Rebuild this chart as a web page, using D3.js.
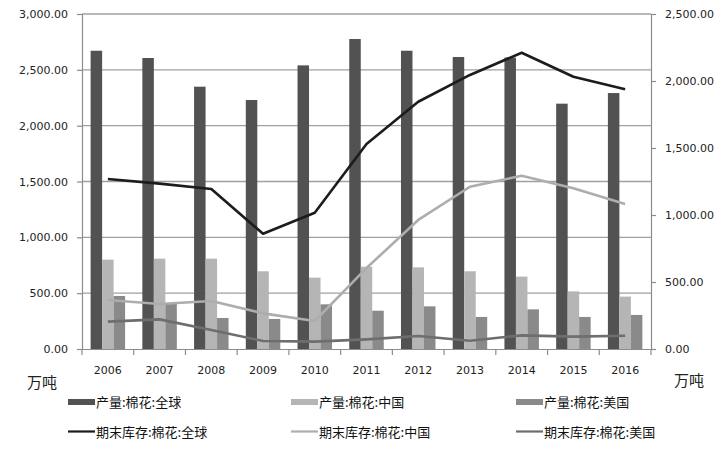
<!DOCTYPE html>
<html><head><meta charset="utf-8">
<script src="https://cdn.jsdelivr.net/npm/d3@7"></script>
<style>body{margin:0;background:#fff;}svg{display:block;}</style>
</head><body>
<svg id="c" width="717" height="450"></svg>
<script>
const years = ["2006","2007","2008","2009","2010","2011","2012","2013","2014","2015","2016"];
const prodGlobal = [2671,2606,2349,2230,2540,2776,2671,2615,2610,2197,2292];
const prodChina  = [800,809,809,696,639,737,731,696,648,516,469];
const prodUS     = [475,412,278,269,400,343,382,287,355,287,305];
const stockGlobal = [1269,1234,1194,860,1017,1530,1845,2045,2211,2032,1938];
const stockChina  = [366,336,358,266,209,604,963,1211,1293,1199,1082];
const stockUS     = [204,221,142,60,55,72,97,62,102,92,99];
const leftTicks = [0,500,1000,1500,2000,2500,3000];
const rightTicks = [0,500,1000,1500,2000,2500];
const barNames = ["产量:棉花:全球","产量:棉花:中国","产量:棉花:美国"];
const lineNames = ["期末库存:棉花:全球","期末库存:棉花:中国","期末库存:棉花:美国"];
const unit = "万吨";

const barColors = ["#525252","#b5b5b5","#8a8a8a"];
const lineColors = ["#1c1c1c","#adadad","#6e6e6e"];
const font = "DejaVu Sans, Verdana, sans-serif";
const cjk = "'Noto Sans CJK SC', sans-serif";

const svg = d3.select("#c");
const L = 82, R = 651, T = 14, B = 349;
const x = d3.scaleBand().domain(years).range([L, R]).padding(0);
const yL = d3.scaleLinear().domain([0,3000]).range([B, T]);
const yR = d3.scaleLinear().domain([0,2500]).range([B, T]);
const fmt = d3.format(",.2f");

// gridlines
svg.append("g").selectAll("line").data(leftTicks.slice(1)).join("line")
  .attr("x1", L).attr("x2", R).attr("y1", d=>yL(d)).attr("y2", d=>yL(d))
  .attr("stroke", "#a0a0a0").attr("stroke-width", 1.3);

// bars
const inner = d3.scaleBand().domain([0,1,2]).range([0, x.bandwidth()]).paddingOuter(0.75).paddingInner(0);
const series = [prodGlobal, prodChina, prodUS];
series.forEach((arr, si) => {
  svg.append("g").selectAll("rect").data(arr).join("rect")
    .attr("x", (d,i)=>x(years[i]) + inner(si))
    .attr("width", inner.bandwidth())
    .attr("y", d=>yL(d))
    .attr("height", d=>B - yL(d))
    .attr("fill", barColors[si]);
});

// lines
const lines = [stockGlobal, stockChina, stockUS];
const lineGen = d3.line().x((d,i)=>x(years[i]) + x.bandwidth()/2).y(d=>yR(d));
[2,1,0].forEach(si => {
  svg.append("path").datum(lines[si]).attr("d", lineGen)
    .attr("fill","none").attr("stroke", lineColors[si]).attr("stroke-width", 2.6)
    .attr("stroke-linejoin","round");
});

// axes
const ax = svg.append("g").attr("transform", `translate(${L},0)`)
  .call(d3.axisLeft(yL).tickValues(leftTicks).tickFormat(fmt).tickSizeOuter(0).tickSize(5).tickPadding(9));
const axR = svg.append("g").attr("transform", `translate(${R},0)`)
  .call(d3.axisRight(yR).tickValues(rightTicks).tickFormat(fmt).tickSizeOuter(0).tickSize(5).tickPadding(9));
const axB = svg.append("g").attr("transform", `translate(0,${B})`)
  .call(d3.axisBottom(x).tickSize(0).tickPadding(17).tickSizeOuter(0));
svg.append("g").selectAll("line").data(d3.range(years.length+1)).join("line")
  .attr("x1", i=>L + i*x.step()).attr("x2", i=>L + i*x.step())
  .attr("y1", B).attr("y2", B+6).attr("stroke","#8c8c8c").attr("stroke-width",1.2);

[ax, axR, axB].forEach(g => {
  g.selectAll(".domain").attr("stroke","#8c8c8c").attr("stroke-width",1.2);
  g.selectAll(".tick line").attr("stroke","#8c8c8c").attr("stroke-width",1.2);
  g.selectAll("text").attr("font-family", font).attr("font-size", 11).attr("fill","#222");
});

// unit labels
svg.append("text").attr("x", 27).attr("y", 388).text(unit)
  .attr("font-family", cjk).attr("font-size", 15).attr("fill","#222");
svg.append("text").attr("x", 674).attr("y", 386).text(unit)
  .attr("font-family", cjk).attr("font-size", 15).attr("fill","#222");

// legend
const colX = [68, 291, 516];
barNames.forEach((n,i) => {
  svg.append("rect").attr("x", colX[i]).attr("y", 399).attr("width", 27).attr("height", 6).attr("fill", barColors[i]);
  svg.append("text").attr("x", colX[i]+28).attr("y", 406.5).text(n)
    .attr("font-family", cjk).attr("font-size", 13).attr("fill","#111");
});
lineNames.forEach((n,i) => {
  svg.append("line").attr("x1", colX[i]).attr("x2", colX[i]+27).attr("y1", 431.5).attr("y2", 431.5)
    .attr("stroke", lineColors[i]).attr("stroke-width", 2.2);
  svg.append("text").attr("x", colX[i]+28).attr("y", 436.5).text(n)
    .attr("font-family", cjk).attr("font-size", 13).attr("fill","#111");
});
</script>
</body></html>
